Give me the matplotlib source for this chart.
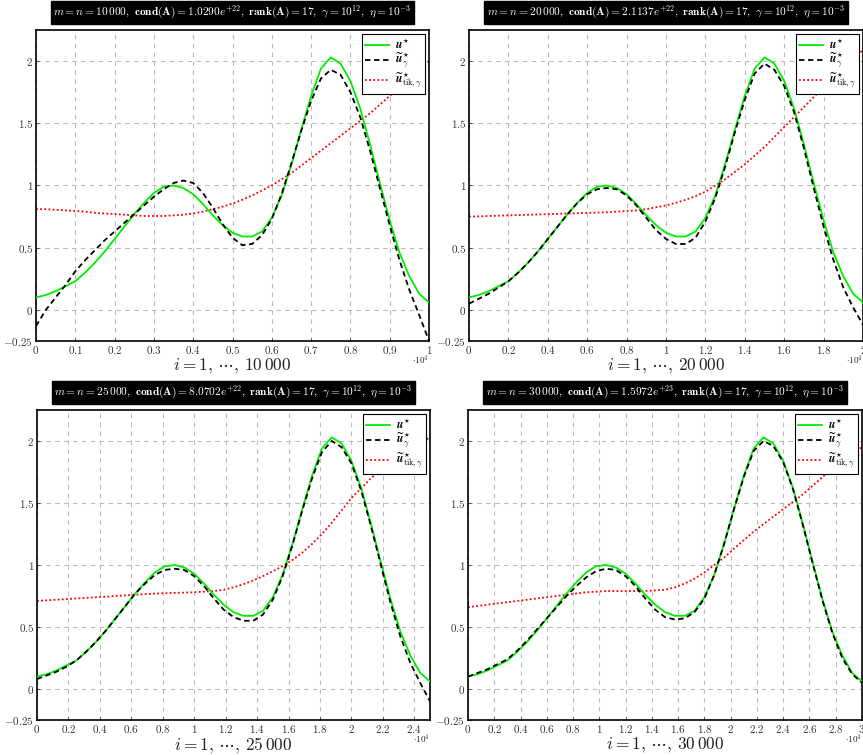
import numpy as np
import matplotlib
matplotlib.use("Agg")
import matplotlib.pyplot as plt
from matplotlib.ticker import FuncFormatter

plt.rcParams["mathtext.fontset"] = "cm"
plt.rcParams["font.family"] = ["serif"]
plt.rcParams["font.serif"] = ["cmr10", "DejaVu Serif"]
plt.rcParams["axes.formatter.use_mathtext"] = True

# sample positions as a fraction of n (41 points)
frac = np.linspace(0, 1, 41)

# exact solution u*, same shape in every panel
u_star = [0.10, 0.12, 0.15, 0.19, 0.23, 0.30, 0.38, 0.47, 0.57, 0.67, 0.77,
          0.86, 0.94, 0.99, 1.00, 0.98, 0.93, 0.85, 0.76, 0.68, 0.62, 0.59,
          0.59, 0.63, 0.74, 0.92, 1.17, 1.45, 1.72, 1.94, 2.03, 1.98, 1.84,
          1.62, 1.33, 1.02, 0.72, 0.46, 0.27, 0.13, 0.06]

# n = 10000
ugam_10k = [-0.13, 0.00, 0.10, 0.20, 0.31, 0.40, 0.48, 0.56, 0.63, 0.70, 0.77,
            0.84, 0.91, 0.97, 1.02, 1.04, 1.02, 0.94, 0.82, 0.69, 0.58, 0.52,
            0.53, 0.60, 0.73, 0.93, 1.18, 1.44, 1.68, 1.86, 1.93, 1.89, 1.75,
            1.55, 1.28, 0.98, 0.68, 0.40, 0.16, -0.04, -0.25]
utik_10k = [0.81, 0.81, 0.805, 0.80, 0.795, 0.79, 0.78, 0.775, 0.77, 0.765, 0.76,
            0.755, 0.755, 0.755, 0.76, 0.765, 0.775, 0.79, 0.81, 0.83, 0.855, 0.885,
            0.92, 0.96, 1.00, 1.05, 1.10, 1.16, 1.22, 1.28, 1.34, 1.40, 1.46,
            1.52, 1.58, 1.65, 1.72, 1.79, 1.86, 1.93, 2.00]

# n = 20000
ugam_20k = [0.05, 0.09, 0.13, 0.18, 0.23, 0.30, 0.38, 0.47, 0.57, 0.67, 0.77,
            0.86, 0.93, 0.97, 0.98, 0.97, 0.92, 0.84, 0.74, 0.64, 0.57, 0.53,
            0.53, 0.58, 0.71, 0.90, 1.15, 1.43, 1.69, 1.90, 1.98, 1.93, 1.80,
            1.59, 1.30, 0.98, 0.67, 0.40, 0.18, 0.02, -0.12]
utik_20k = [0.75, 0.752, 0.755, 0.757, 0.76, 0.762, 0.765, 0.767, 0.77, 0.772, 0.775,
            0.777, 0.78, 0.782, 0.785, 0.79, 0.795, 0.80, 0.81, 0.825, 0.84, 0.86,
            0.885, 0.915, 0.95, 1.00, 1.05, 1.11, 1.17, 1.24, 1.31, 1.39, 1.47,
            1.55, 1.63, 1.71, 1.79, 1.87, 1.95, 2.02, 2.09]

# n = 25000
ugam_25k = [0.08, 0.11, 0.14, 0.18, 0.23, 0.30, 0.38, 0.47, 0.57, 0.67, 0.77,
            0.85, 0.92, 0.96, 0.97, 0.96, 0.91, 0.83, 0.73, 0.64, 0.58, 0.55,
            0.55, 0.60, 0.72, 0.91, 1.16, 1.44, 1.70, 1.91, 2.00, 1.95, 1.82,
            1.60, 1.31, 1.00, 0.69, 0.42, 0.21, 0.05, -0.10]
utik_25k = [0.71, 0.715, 0.72, 0.725, 0.73, 0.735, 0.74, 0.745, 0.75, 0.755, 0.76,
            0.765, 0.77, 0.772, 0.775, 0.777, 0.78, 0.785, 0.79, 0.80, 0.82, 0.845,
            0.875, 0.91, 0.95, 0.99, 1.04, 1.10, 1.17, 1.25, 1.34, 1.44, 1.54,
            1.62, 1.70, 1.77, 1.83, 1.88, 1.93, 1.98, 2.03]

# n = 30000
ugam_30k = [0.10, 0.13, 0.16, 0.20, 0.24, 0.31, 0.39, 0.48, 0.57, 0.66, 0.75,
            0.83, 0.90, 0.95, 0.97, 0.96, 0.91, 0.83, 0.73, 0.64, 0.58, 0.56,
            0.57, 0.62, 0.73, 0.92, 1.17, 1.45, 1.71, 1.92, 2.00, 1.96, 1.83,
            1.61, 1.32, 1.01, 0.71, 0.45, 0.25, 0.12, 0.05]
utik_30k = [0.66, 0.67, 0.68, 0.69, 0.70, 0.71, 0.72, 0.73, 0.74, 0.75, 0.76,
            0.77, 0.78, 0.785, 0.79, 0.79, 0.79, 0.79, 0.79, 0.795, 0.80, 0.82,
            0.85, 0.89, 0.94, 1.00, 1.06, 1.13, 1.20, 1.27, 1.33, 1.39, 1.45,
            1.51, 1.57, 1.64, 1.71, 1.78, 1.84, 1.90, 1.95]

sizes = [10000, 20000, 25000, 30000]
size_labels = [r"10\,000", r"20\,000", r"25\,000", r"30\,000"]
conds = [r"1.0290e^{+22}", r"2.1137e^{+22}", r"8.0702e^{+22}", r"1.5972e^{+23}"]
xtick_steps = [0.1, 0.2, 0.2, 0.2]
gammas = [ugam_10k, ugam_20k, ugam_25k, ugam_30k]
tiks = [utik_10k, utik_20k, utik_25k, utik_30k]

# axes boxes in pixels (left, top, right, bottom) on an 863x755 canvas
W, H = 863, 755
boxes = [(36, 30, 429, 341), (469, 30, 863, 341),
         (37, 410, 430, 720), (468, 410, 862, 720)]

fig = plt.figure(figsize=(W / 100, H / 100), dpi=100)


def fmt(v, pos):
    s = "%g" % round(v, 3)
    return "$" + s + "$"


for k in range(4):
    l, t, r, b = boxes[k]
    ax = fig.add_axes([l / W, 1 - b / H, (r - l) / W, (b - t) / H])
    x = frac * sizes[k] / 1e4
    ax.plot(x, u_star, color="#00ee00", lw=1.3, label=r"$\mathbfit{u}^{\star}$", zorder=3)
    ax.plot(x, gammas[k], color="black", lw=1.3, ls=(0, (3, 2)),
            label=r"$\widetilde{\mathbfit{u}}^{\star}_{\gamma}$", zorder=4)
    ax.plot(x, tiks[k], color="red", lw=1.3, ls=(0, (1, 1.3)),
            label=r"$\widetilde{\mathbfit{u}}^{\star}_{\mathrm{tik},\gamma}$", zorder=2)

    xmax = sizes[k] / 1e4
    ax.set_xlim(0, xmax)
    ax.set_ylim(-0.25, 2.25)
    step = xtick_steps[k]
    xt = np.round(np.arange(0, xmax + 1e-9, step), 3)
    ax.set_xticks(xt)
    ax.set_yticks([-0.25, 0, 0.5, 1, 1.5, 2])
    ax.xaxis.set_major_formatter(FuncFormatter(fmt))
    ax.yaxis.set_major_formatter(FuncFormatter(fmt))
    ax.tick_params(direction="in", length=2.5, width=0.6, labelsize=8,
                   colors="#333333", pad=2)

    ax.grid(True, color="#bbbbbb", lw=0.8, ls=(0, (4, 4)))
    for sp in ax.spines.values():
        sp.set_linewidth(1.2)
        sp.set_color("black")

    ax.set_xlabel(r"$i = 1,\, \cdots,\, " + size_labels[k] + "$", fontsize=12.5,
                  labelpad=0.5, color="#222222")
    ax.annotate(r"$\cdot 10^{4}$", xy=(1, 0), xycoords="axes fraction",
                xytext=(0, -14), textcoords="offset points", ha="right",
                va="center", fontsize=6.5, color="#222222")

    title = (r"$m = n = " + size_labels[k] + r",\ \mathbf{cond}(\mathbf{A}) = "
             + conds[k] + r",\ \mathbf{rank}(\mathbf{A}) = 17,\ \gamma = 10^{12},"
             r"\ \eta = 10^{-3}$")
    ax.annotate(title, xy=(0.5, 1), xycoords="axes fraction",
                xytext=(0, 12.5), textcoords="offset points", ha="center",
                va="center", fontsize=8.2, color="white",
                bbox=dict(boxstyle="square,pad=0.25", fc="black", ec="black"))

    leg = ax.legend(loc="upper right", fontsize=8.5, handlelength=2.0,
                    borderaxespad=0.35, fancybox=False, framealpha=1,
                    edgecolor="black", borderpad=0.25, labelspacing=0.0,
                    handletextpad=0.5)
    leg.get_frame().set_linewidth(0.8)

fig.savefig("out.png", dpi=100)
